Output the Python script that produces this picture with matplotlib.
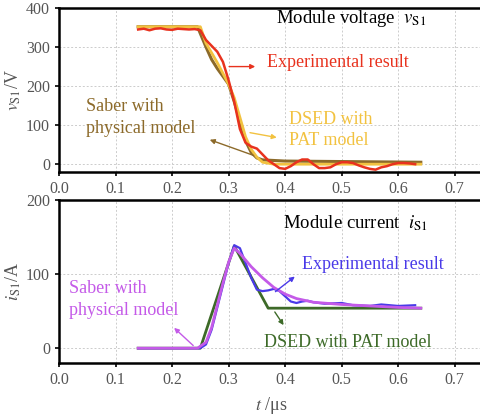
import numpy as np
import matplotlib
matplotlib.use('Agg')
import matplotlib.pyplot as plt

plt.rcParams['font.family'] = ['Liberation Serif', 'DejaVu Serif']
plt.rcParams['mathtext.fontset'] = 'stix'

# ---- voltage panel data ----
t_vexp = [0.14, 0.15, 0.16, 0.17, 0.18, 0.19, 0.20, 0.21, 0.22, 0.23, 0.24, 0.25, 0.26, 0.27, 0.28,
          0.29, 0.30, 0.31, 0.32, 0.33, 0.34, 0.35, 0.36, 0.37, 0.38, 0.39, 0.40, 0.41, 0.42,
          0.43, 0.44, 0.45, 0.46, 0.47, 0.48, 0.49, 0.50, 0.51, 0.52, 0.53, 0.54, 0.55,
          0.56, 0.57, 0.58, 0.59, 0.60, 0.61, 0.62, 0.63]
v_exp = [345, 347, 343, 347, 348, 345, 344, 347, 346, 345, 346, 343, 318, 303, 288,
         262, 215, 160, 90, 55, 45, 40, 25, 10, 0, -10, -12, -5, 5,
         12, 12, 0, -10, -10, -8, 0, 5, 5, 3, -3, -8, -12,
         -14, -8, -5, 0, 3, 3, 2, 0]

t_vsab = [0.14, 0.245, 0.26, 0.27, 0.28, 0.29, 0.30, 0.31, 0.32, 0.33, 0.34, 0.35, 0.36, 0.40, 0.64]
v_sab = [352, 352, 300, 268, 245, 225, 205, 160, 110, 60, 30, 16, 11, 8, 5]

t_vdsed = [0.14, 0.25, 0.26, 0.28, 0.30, 0.31, 0.32, 0.33, 0.34, 0.35, 0.36, 0.38, 0.64]
v_dsed = [352, 352, 310, 260, 205, 170, 120, 70, 38, 18, 5, 0, 0]

# ---- current panel data ----
t_iexp = [0.14, 0.25, 0.26, 0.27, 0.28, 0.29, 0.30, 0.31, 0.32, 0.33, 0.34, 0.35, 0.36, 0.37,
          0.38, 0.39, 0.40, 0.41, 0.42, 0.43, 0.44, 0.45, 0.47, 0.50, 0.52, 0.55, 0.57, 0.60, 0.63]
i_exp = [0, 0, 5, 25, 55, 85, 115, 139, 135, 115, 95, 79, 77, 78,
         80, 77, 70, 63, 61, 63, 64, 62, 60, 61, 58, 57, 59, 57, 58]

t_isab = [0.14, 0.245, 0.26, 0.27, 0.28, 0.29, 0.30, 0.31, 0.32, 0.34, 0.36, 0.38, 0.40,
          0.42, 0.45, 0.50, 0.55, 0.60, 0.64]
i_sab = [0, 0, 8, 28, 58, 88, 116, 135, 128, 110, 95, 82, 73, 67, 62, 59, 57, 55, 54]

t_idsed = [0.14, 0.25, 0.31, 0.37, 0.64]
i_dsed = [0, 0, 138, 54, 54]

W, H = 481, 419
fig = plt.figure(figsize=(W / 100, H / 100), dpi=100)


def px_axes(left, top, right, bottom):
    return fig.add_axes([left / W, 1 - bottom / H, (right - left) / W, (bottom - top) / H])


def style(ax):
    ax.set_xlim(0, 0.75)
    ax.set_xticks(np.arange(0, 0.71, 0.1))
    ax.set_xticklabels(['%.1f' % x for x in np.arange(0, 0.71, 0.1)])
    ax.grid(True, ls=(0, (2, 2)), color='#cccccc', lw=0.7)
    for s in ['left', 'bottom', 'top']:
        ax.spines[s].set_linewidth(1.8)
    ax.spines['right'].set_visible(False)
    ax.tick_params(labelsize=11.5, labelcolor='#555555', width=1.2, length=3, direction='out')


def arrow(ax, start, end, color):
    ax.annotate('', xy=end, xytext=start,
                arrowprops=dict(arrowstyle='-|>', color=color, lw=1, mutation_scale=7))


# top: voltage
ax1 = px_axes(59, 8, 483, 172)
ax1.plot(t_vsab, v_sab, color='#8c6a2a', lw=2.2)
ax1.plot(t_vdsed, v_dsed, color='#f2c240', lw=2.0)
ax1.plot(t_vexp, v_exp, color='#e8321e', lw=1.8)
ax1.set_ylim(-20, 400)
ax1.set_yticks([0, 100, 200, 300, 400])
style(ax1)
ax1.set_ylabel(r'$v_{\rm S1}$/V', fontsize=13, color='#555555', labelpad=2)
ax1.text(0.384, 372, r'Module voltage  $v_{\rm S1}$', fontsize=13.5, va='center')
ax1.text(0.368, 261, 'Experimental result', color='#e8321e', fontsize=13, va='center')
arrow(ax1, (0.296, 250), (0.352, 250), '#e8321e')
ax1.text(0.048, 120, 'Saber with\nphysical model', color='#8c6a2a', fontsize=13,
         va='center', linespacing=1.35)
arrow(ax1, (0.349, 20), (0.262, 65), '#8c6a2a')
ax1.text(0.406, 88, 'DSED with\nPAT model', color='#f2c240', fontsize=13,
         va='center', linespacing=1.35)
arrow(ax1, (0.333, 82), (0.39, 67), '#f2c240')

# bottom: current
ax2 = px_axes(59, 200, 483, 363)
ax2.plot(t_idsed, i_dsed, color='#3d6a28', lw=2.0)
ax2.plot(t_iexp, i_exp, color='#4a3ae8', lw=1.6)
ax2.plot(t_isab, i_sab, color='#c45ae8', lw=2.0)
ax2.set_ylim(-20, 200)
ax2.set_yticks([0, 100, 200])
style(ax2)
ax2.set_ylabel(r'$i_{\rm S1}$/A', fontsize=13, color='#555555', labelpad=2)
ax2.set_xlabel(r'$t$ /μs', fontsize=13, color='#555555', labelpad=5)
ax2.text(0.397, 169, r'Module current  $i_{\rm S1}$', fontsize=13.5, va='center')
ax2.text(0.429, 113, 'Experimental result', color='#4a3ae8', fontsize=13, va='center')
arrow(ax2, (0.379, 74), (0.421, 99), '#4a3ae8')
ax2.text(0.018, 66, 'Saber with\nphysical model', color='#c45ae8', fontsize=13,
         va='center', linespacing=1.35)
arrow(ax2, (0.241, 1), (0.2, 30), '#c45ae8')
ax2.text(0.362, 8, 'DSED with PAT model', color='#3d6a28', fontsize=13, va='center')
arrow(ax2, (0.379, 52), (0.4, 28), '#3d6a28')

fig.savefig('out.png', dpi=100)
